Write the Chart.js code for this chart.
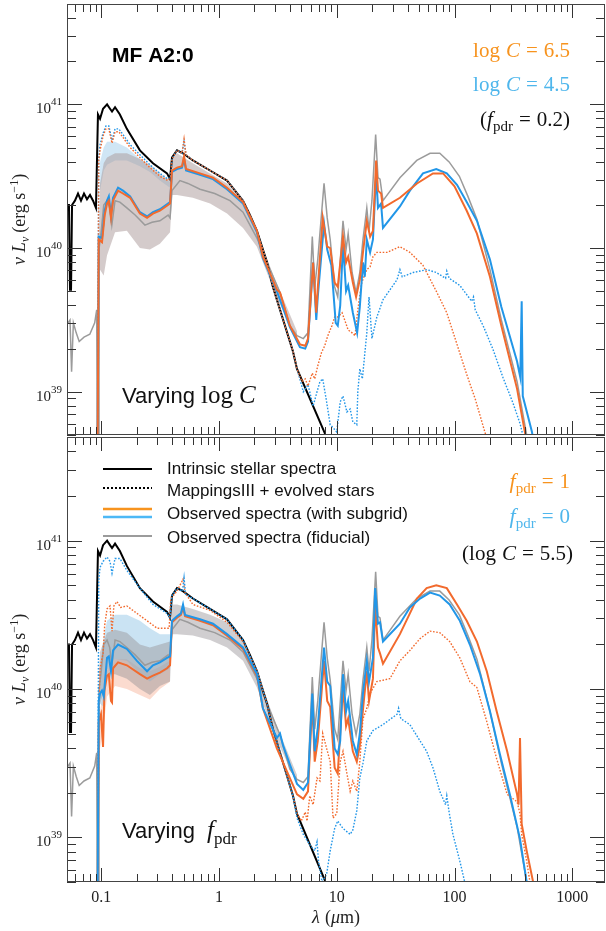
<!DOCTYPE html>
<html>
<head>
<meta charset="utf-8">
<script src="https://cdn.jsdelivr.net/npm/chart.js@4.4.1/dist/chart.umd.min.js"></script>
<style>
  body { margin: 0; background: #fff; }
  #wrap { position: relative; width: 606px; height: 931px; }
  .panel { position: absolute; left: 0; width: 606px; }
</style>
</head>
<body>
<div id="wrap">
  <div class="panel" style="top:0;height:437px"><canvas id="topPanel" width="606" height="437"></canvas></div>
  <div class="panel" style="top:436px;height:495px"><canvas id="bottomPanel" width="606" height="495"></canvas></div>
</div>
<script>
// all curves: [wavelength in micron, log10 of nu L_nu in erg/s]

const intrinsic = [[0.0512,40.30],[0.0532,40.30],[0.0543,39.71],[0.0554,39.71],[0.0565,40.30],[0.0598,40.33],[0.0635,40.38],[0.0673,40.33],[0.0714,40.38],[0.0757,40.34],[0.0803,40.37],[0.0852,40.33],[0.0902,40.28],[0.0938,40.93],[0.0977,40.90],[0.1036,40.97],[0.1121,41.00],[0.1187,40.97],[0.1235,40.95],[0.131,40.98],[0.144,40.93],[0.165,40.83],[0.213,40.68],[0.275,40.59],[0.362,40.52],[0.384,40.48],[0.399,40.63],[0.44,40.68],[0.494,40.66],[0.601,40.61],[0.839,40.54],[1.17,40.47],[1.60,40.33],[1.83,40.23],[2.10,40.12],[2.56,39.90],[2.87,39.73],[4.25,39.28],[4.59,39.16],[7.93,38.71],[8.5,38.6]];

const fiducial = [[0.0512,39.47],[0.0543,39.50],[0.0560,39.14],[0.0580,39.48],[0.0613,39.41],[0.065,39.35],[0.0714,39.38],[0.080,39.40],[0.088,39.48],[0.0915,39.57],[0.0925,38.6],[0.0945,38.6],[0.0957,39.99],[0.100,40.12],[0.105,40.30],[0.112,40.33],[0.118,40.28],[0.123,40.16],[0.131,40.33],[0.144,40.32],[0.165,40.28],[0.194,40.23],[0.235,40.16],[0.270,40.18],[0.315,40.19],[0.370,40.23],[0.384,40.21],[0.399,40.40],[0.466,40.47],[0.545,40.45],[0.69,40.41],[0.92,40.38],[1.24,40.33],[1.60,40.25],[2.10,40.07],[2.56,39.90],[3.3,39.69],[4.0,39.46],[4.6,39.39],[5.2,39.37],[5.7,39.41],[6.2,40.08],[6.5,39.73],[6.9,39.92],[7.8,40.45],[8.3,40.21],[8.8,40.06],[9.6,39.73],[10.2,39.66],[11.3,40.19],[12.0,39.99],[12.5,40.10],[13.5,39.83],[14.6,39.69],[15.7,39.83],[16.7,40.06],[18.0,40.28],[18.8,40.12],[19.9,40.33],[21.4,40.79],[22.4,40.49],[23.3,40.48],[24.7,40.33],[34.4,40.49],[47.8,40.61],[62,40.66],[75,40.66],[90,40.60],[110,40.50],[130,40.36],[155,40.20],[200,39.85],[250,39.50],[340,39.07],[380,38.85],[410,38.70],[440,38.55]];

// top panel: varying log C (f_pdr = 0.2)
const obsLogC65 = [[0.0932,38.6],[0.0952,40.06],[0.1015,40.04],[0.107,40.23],[0.112,40.31],[0.116,40.33],[0.121,40.21],[0.126,40.33],[0.139,40.40],[0.153,40.38],[0.176,40.35],[0.213,40.24],[0.245,40.21],[0.275,40.24],[0.315,40.26],[0.369,40.30],[0.384,40.31],[0.399,40.54],[0.44,40.56],[0.485,40.57],[0.505,40.64],[0.525,40.55],[0.69,40.52],[0.89,40.49],[1.17,40.42],[1.6,40.32],[2.1,40.12],[2.36,39.94],[3.1,39.71],[3.3,39.69],[4.0,39.46],[4.87,39.33],[5.4,39.32],[5.7,39.37],[6.3,39.90],[6.7,39.55],[6.9,39.72],[7.6,40.21],[8.3,40.01],[8.8,40.00],[9.6,39.76],[10.2,39.73],[11.3,40.08],[12.0,39.90],[12.5,39.94],[13.7,39.76],[14.6,39.66],[15.7,39.78],[16.7,39.97],[18,40.19],[19.2,40.08],[20.3,40.12],[21.6,40.61],[22.4,40.40],[23.8,40.38],[24.7,40.28],[34.4,40.35],[48,40.45],[65.6,40.52],[80,40.52],[100,40.43],[127,40.26],[155,40.10],[200,39.80],[250,39.46],[340,39.02],[380,38.80],[400,38.70],[430,38.55]];
const obsLogC45 = [[0.0932,38.6],[0.0952,40.08],[0.1015,40.07],[0.107,40.26],[0.112,40.33],[0.116,40.36],[0.121,40.23],[0.126,40.35],[0.139,40.42],[0.153,40.40],[0.176,40.36],[0.213,40.25],[0.245,40.22],[0.275,40.25],[0.315,40.27],[0.369,40.31],[0.384,40.32],[0.399,40.53],[0.44,40.55],[0.485,40.56],[0.505,40.62],[0.525,40.54],[0.69,40.51],[0.89,40.48],[1.17,40.41],[1.6,40.31],[2.1,40.11],[2.36,39.93],[3.1,39.70],[4.0,39.45],[4.87,39.31],[5.4,39.30],[5.7,39.35],[6.3,39.90],[6.7,39.50],[6.9,39.66],[7.8,40.17],[8.3,39.99],[9.0,39.88],[9.8,39.48],[10.2,39.46],[10.7,39.60],[11.3,40.03],[12.0,39.70],[12.5,39.74],[13.7,39.55],[14.9,39.41],[15.7,39.59],[16.7,39.90],[17.3,39.80],[18,40.06],[19.2,39.97],[20.3,40.06],[21.6,40.52],[22.4,40.28],[23.8,40.31],[24.7,40.14],[34.4,40.29],[41.8,40.40],[54,40.52],[70,40.55],[86,40.52],[105,40.44],[127,40.32],[155,40.19],[200,39.92],[250,39.59],[340,39.21],[362,39.10],[372,39.63],[380,38.97],[455,38.72],[480,38.6]];
const mapLogC65 = [[0.0932,38.6],[0.0952,40.61],[0.0977,40.68],[0.1036,40.78],[0.1097,40.83],[0.116,40.83],[0.1235,40.73],[0.131,40.81],[0.141,40.81],[0.153,40.77],[0.176,40.70],[0.213,40.63],[0.259,40.56],[0.315,40.50],[0.369,40.47],[0.39,40.50],[0.399,40.62],[0.44,40.68],[0.485,40.66],[0.505,40.76],[0.525,40.65],[0.60,40.61],[0.84,40.54],[1.17,40.47],[1.6,40.33],[2.1,40.12],[2.56,39.90],[2.87,39.73],[4.25,39.28],[4.6,39.16],[5.07,39.07],[5.4,39.09],[5.7,39.04],[6.2,39.13],[6.5,39.09],[6.9,39.18],[7.4,39.27],[7.9,39.32],[8.4,39.39],[9.1,39.46],[9.6,39.52],[10.2,39.52],[11.1,39.55],[11.8,39.49],[12.5,39.43],[13.5,39.41],[14.3,39.39],[15.1,39.57],[16.3,39.76],[18,39.85],[19.2,39.87],[20.3,39.94],[21.9,39.97],[26.7,39.97],[34.4,40.01],[41.8,39.97],[54,39.88],[70,39.70],[86,39.55],[105,39.33],[127,39.12],[150,38.95],[181,38.72],[200,38.6]];
const mapLogC45 = [[0.0932,38.6],[0.0952,40.63],[0.0977,40.72],[0.1036,40.80],[0.1097,40.85],[0.116,40.85],[0.1235,40.75],[0.131,40.83],[0.141,40.83],[0.153,40.79],[0.176,40.72],[0.213,40.65],[0.259,40.58],[0.315,40.52],[0.369,40.48],[0.39,40.50],[0.399,40.62],[0.44,40.68],[0.485,40.66],[0.505,40.74],[0.525,40.65],[0.60,40.61],[0.84,40.54],[1.17,40.47],[1.6,40.33],[2.1,40.12],[2.56,39.90],[2.87,39.73],[4.25,39.28],[4.6,39.16],[5.2,39.00],[5.7,39.05],[6.3,38.90],[6.8,39.00],[7.2,39.07],[7.6,39.09],[8.2,38.93],[8.8,38.77],[9.3,38.75],[10,38.72],[10.7,38.93],[11.3,38.97],[12.2,38.86],[13,38.88],[13.7,38.79],[14.8,38.77],[15.1,39.00],[15.7,39.16],[16.5,39.09],[18,39.41],[18.8,39.66],[19.9,39.37],[21.9,39.52],[24.7,39.64],[32.5,39.78],[34.4,39.85],[36,39.80],[44.6,39.83],[58.4,39.85],[70,39.83],[84,39.79],[86,39.84],[90,39.79],[111,39.74],[140,39.63],[145,39.66],[150,39.57],[175,39.46],[211,39.30],[258,39.10],[314,38.92],[360,38.78],[380,38.70],[400,38.6]];
// [wavelength, low, high]
const bandTop = [[0.0957,39.95,40.10],[0.0977,39.85,40.45],[0.105,39.81,40.59],[0.112,39.95,40.63],[0.131,40.11,40.66],[0.165,40.12,40.66],[0.213,40.00,40.62],[0.259,39.99,40.58],[0.315,40.03,40.52],[0.384,40.11,40.47],[0.40,40.37,40.62],[0.44,40.37,40.66],[0.60,40.35,40.59],[0.84,40.31,40.52],[1.17,40.24,40.45],[1.6,40.14,40.32],[2.1,40.01,40.11],[3.0,39.68,39.78],[4.6,39.36,39.42]];
const bandTopLogC45 = [[0.0977,40.40,40.60],[0.105,40.54,40.70],[0.112,40.58,40.74],[0.131,40.61,40.74],[0.165,40.61,40.70],[0.213,40.57,40.62],[0.259,40.53,40.56],[0.315,40.47,40.50],[0.384,40.42,40.46]];

// bottom panel: varying f_pdr (log C = 5.5)
const obsPdr1 = [[0.0932,38.6],[0.0952,39.78],[0.0995,39.83],[0.1036,39.61],[0.1065,39.99],[0.112,40.09],[0.116,40.10],[0.121,39.92],[0.1235,39.91],[0.126,40.14],[0.139,40.18],[0.165,40.16],[0.213,40.10],[0.245,40.07],[0.275,40.09],[0.315,40.11],[0.362,40.14],[0.384,40.16],[0.399,40.45],[0.44,40.48],[0.475,40.50],[0.495,40.55],[0.515,40.49],[0.69,40.46],[0.89,40.43],[1.17,40.36],[1.6,40.27],[2.1,40.09],[2.36,39.87],[3.1,39.60],[4.6,39.29],[5.2,39.26],[5.7,39.31],[6.2,39.92],[6.5,39.51],[6.9,39.65],[7.8,40.19],[8.3,39.92],[8.8,39.88],[9.6,39.47],[10.2,39.43],[11.3,40.01],[12.0,39.75],[12.5,39.80],[13.7,39.58],[14.8,39.51],[15.7,39.62],[16.7,39.86],[18,40.12],[18.8,39.92],[20.3,40.07],[21.2,40.57],[22.4,40.28],[23.3,40.24],[24.7,40.17],[34.4,40.37],[41.8,40.51],[48,40.61],[58,40.68],[70,40.70],[86,40.68],[105,40.57],[127,40.46],[155,40.32],[188,40.12],[228,39.85],[280,39.58],[340,39.29],[350,39.22],[360,39.67],[372,39.09],[410,38.91],[465,38.70],[500,38.55]];
const obsPdr0 = [[0.0932,38.6],[0.0952,39.92],[0.0977,39.97],[0.1015,39.99],[0.105,39.95],[0.112,40.21],[0.116,40.22],[0.121,40.12],[0.126,40.26],[0.139,40.30],[0.165,40.27],[0.201,40.19],[0.245,40.12],[0.275,40.16],[0.315,40.18],[0.362,40.21],[0.384,40.22],[0.399,40.46],[0.44,40.49],[0.475,40.51],[0.495,40.57],[0.515,40.50],[0.69,40.47],[0.89,40.44],[1.17,40.37],[1.6,40.28],[1.83,40.19],[2.1,40.10],[2.36,39.87],[3.1,39.67],[3.3,39.70],[3.5,39.62],[4.0,39.49],[4.6,39.36],[5.2,39.32],[5.7,39.37],[6.2,39.97],[6.5,39.58],[6.9,39.74],[7.8,40.28],[8.3,40.05],[8.8,40.02],[9.6,39.60],[10.2,39.56],[10.7,39.65],[11.3,40.10],[12.0,39.85],[12.5,39.92],[13.7,39.65],[14.8,39.56],[15.7,39.70],[16.7,39.97],[18,40.19],[18.8,40.05],[20.3,40.21],[21.2,40.68],[22.4,40.44],[23.3,40.45],[24.7,40.32],[34.4,40.44],[41.8,40.55],[51,40.61],[62,40.65],[75,40.63],[91,40.57],[111,40.46],[135,40.30],[165,40.10],[200,39.85],[243,39.56],[295,39.29],[360,38.99],[410,38.70],[450,38.5]];
const mapPdr1 = [[0.0932,38.6],[0.0957,39.92],[0.0977,40.14],[0.1036,40.24],[0.107,40.43],[0.112,40.54],[0.1187,40.56],[0.1235,40.39],[0.128,40.56],[0.136,40.59],[0.146,40.55],[0.165,40.56],[0.201,40.51],[0.245,40.46],[0.298,40.41],[0.362,40.41],[0.377,40.41],[0.39,40.61],[0.44,40.66],[0.495,40.74],[0.515,40.65],[0.60,40.57],[0.84,40.53],[1.17,40.45],[1.6,40.32],[2.1,40.12],[2.56,39.90],[2.87,39.73],[4.25,39.28],[4.6,39.16],[5.0,39.11],[5.4,39.17],[5.6,39.11],[5.9,39.28],[6.3,39.22],[6.8,39.40],[7.2,39.38],[7.6,39.70],[8.2,39.60],[8.8,39.51],[9.3,39.13],[10,39.16],[10.7,39.51],[11.3,39.58],[12.2,39.43],[13,39.31],[13.7,39.38],[14.8,39.31],[15.7,39.51],[16.7,39.80],[18,39.87],[19.2,39.97],[21.9,40.05],[28.3,40.07],[34.4,40.19],[41.8,40.26],[51,40.34],[62,40.39],[75,40.38],[91,40.32],[111,40.21],[135,40.05],[155,40.01],[188,39.78],[228,39.53],[280,39.29],[340,39.24],[360,39.16],[372,39.02],[410,38.84],[437,38.70],[470,38.55]];
const mapPdr0 = [[0.0932,38.6],[0.0952,40.73],[0.0977,40.82],[0.1036,40.86],[0.112,40.89],[0.1187,40.86],[0.1235,40.78],[0.131,40.88],[0.144,40.88],[0.165,40.80],[0.213,40.68],[0.275,40.57],[0.362,40.51],[0.384,40.48],[0.399,40.63],[0.44,40.68],[0.49,40.66],[0.505,40.75],[0.52,40.64],[0.601,40.61],[0.839,40.54],[1.17,40.47],[1.6,40.33],[2.1,40.12],[2.56,39.90],[2.87,39.73],[4.25,39.28],[4.6,39.13],[5.2,39.02],[5.9,38.95],[6.5,38.91],[6.8,38.97],[7.0,38.84],[7.5,38.70],[8.2,38.75],[8.8,38.91],[9.6,39.06],[10.2,39.11],[11.3,39.06],[13,39.02],[13.7,39.05],[14.8,39.18],[15.7,39.40],[16.7,39.50],[18,39.65],[20.3,39.72],[24.7,39.76],[32.5,39.83],[33.5,39.87],[35,39.80],[41.8,39.76],[51,39.65],[58,39.58],[65.6,39.47],[75,39.31],[84,39.22],[86,39.28],[90,39.17],[97,39.02],[111,38.84],[122,38.70],[135,38.55]];
const bandBottom = [[0.0957,39.95,40.10],[0.0977,39.90,40.25],[0.105,39.98,40.32],[0.112,40.10,40.38],[0.131,40.10,40.40],[0.165,40.07,40.38],[0.213,40.00,40.30],[0.259,39.96,40.28],[0.315,40.02,40.30],[0.384,40.05,40.32],[0.40,40.37,40.57],[0.44,40.37,40.57],[0.60,40.36,40.54],[0.84,40.33,40.50],[1.17,40.28,40.45],[1.6,40.19,40.34],[2.1,40.01,40.12],[3.0,39.68,39.78],[4.6,39.36,39.42]];
const bandPdr0 = [[0.0977,39.90,40.15],[0.105,39.88,40.35],[0.112,40.13,40.46],[0.131,40.20,40.50],[0.165,40.19,40.50],[0.213,40.10,40.46],[0.259,40.05,40.41],[0.315,40.10,40.37],[0.384,40.14,40.37]];
const bandPdr1 = [[0.0977,39.60,39.85],[0.105,39.75,40.00],[0.112,39.95,40.13],[0.131,40.02,40.20],[0.165,40.00,40.20],[0.213,39.96,40.14],[0.259,39.93,40.12],[0.315,40.00,40.15],[0.384,40.05,40.19]];

const xTickValues = [0.1, 1, 10, 100, 1000];
const xTickLabels = ['0.1', '1', '10', '100', '1000'];
const yTickValues = [1e39, 1e40, 1e41];
const yTickExps = ['39', '40', '41'];

const SERIF = '"Liberation Serif", "DejaVu Serif", serif';
const SANS = '"Liberation Sans", Arial, sans-serif';
const ORANGE = '#f26a2d', BLUE = '#2196e8', GREY = '#9b9b9b';
const ORANGE_TXT = '#f7931e', BLUE_TXT = '#4eb6ec';

function pts(arr, k) {
    return arr.map(p => ({ x: p[0], y: Math.pow(10, p[k || 1]) }));
}
function curve(arr, color, width, dash) {
    return { data: pts(arr), borderColor: color, borderWidth: width, borderDash: dash || [],
             pointRadius: 0, fill: false, tension: 0 };
}
function band(arr, color) {
    return [
        { data: pts(arr, 1), borderColor: 'rgba(0,0,0,0)', borderWidth: 0, pointRadius: 0, fill: false },
        { data: pts(arr, 2), borderColor: 'rgba(0,0,0,0)', borderWidth: 0, pointRadius: 0, fill: '-1', backgroundColor: color }
    ];
}

// draw a run of text pieces: [text, font, dy] or [gap]
function rich(ctx, parts, x, y, align) {
    let w = 0;
    parts.forEach(p => {
        if (typeof p[0] === 'number') { w += p[0]; return; }
        ctx.font = p[1]; w += ctx.measureText(p[0]).width;
    });
    let cx = align === 'right' ? x - w : align === 'center' ? x - w / 2 : x;
    parts.forEach(p => {
        if (typeof p[0] === 'number') { cx += p[0]; return; }
        ctx.font = p[1];
        ctx.fillText(p[0], cx, y + (p[2] || 0));
        cx += ctx.measureText(p[0]).width;
    });
}

function yTitle(ctx, cx, cy) {
    ctx.save();
    ctx.translate(cx, cy);
    ctx.rotate(-Math.PI / 2);
    ctx.fillStyle = '#222';
    rich(ctx, [['ν', 'italic 18px ' + SERIF], [5], ['L', 'italic 18px ' + SERIF], ['ν', 'italic 12px ' + SERIF, 4],
               [4], ['(erg s', '18px ' + SERIF], ['−1', '12px ' + SERIF, -7], [')', '18px ' + SERIF]], 0, 0, 'center');
    ctx.restore();
}

function axesPlugin(extra) {
    return {
        id: 'axesBox',
        afterDraw(chart) {
            const ctx = chart.ctx, a = chart.chartArea;
            const xs = chart.scales.x, ys = chart.scales.y;
            ctx.save();
            ctx.strokeStyle = '#333';
            ctx.lineWidth = 1;
            ctx.beginPath();
            for (let e = -2; e <= 3; e++) {
                for (let m = 1; m <= 9; m++) {
                    const v = m * Math.pow(10, e);
                    if (v < xs.min || v > xs.max) continue;
                    const px = Math.round(xs.getPixelForValue(v)) + 0.5;
                    const len = m === 1 ? 14 : 8;
                    ctx.moveTo(px, a.bottom); ctx.lineTo(px, a.bottom - len);
                    ctx.moveTo(px, a.top); ctx.lineTo(px, a.top + len);
                }
            }
            for (let e = 38; e <= 41; e++) {
                for (let m = 1; m <= 9; m++) {
                    const v = m * Math.pow(10, e);
                    if (v < ys.min || v > ys.max) continue;
                    const py = Math.round(ys.getPixelForValue(v)) + 0.5;
                    const len = m === 1 ? 15 : 9;
                    ctx.moveTo(a.left, py); ctx.lineTo(a.left + len, py);
                    ctx.moveTo(a.right, py); ctx.lineTo(a.right - len, py);
                }
            }
            ctx.stroke();
            ctx.strokeStyle = '#444';
            ctx.strokeRect(Math.round(a.left) + 0.5, Math.round(a.top) + 0.5,
                           Math.round(a.right - a.left) - 1, Math.round(a.bottom - a.top) - 1);

            ctx.fillStyle = '#222';
            ctx.textBaseline = 'alphabetic';
            yTickValues.forEach((v, i) => {
                const py = ys.getPixelForValue(v);
                rich(ctx, [['10', '15px ' + SERIF], ['' + yTickExps[i], '11px ' + SERIF, -8]], 62, py + 9, 'right');
            });
            yTitle(ctx, 25, (a.top + a.bottom) / 2);
            extra(ctx, a, xs, ys);
            ctx.restore();
        }
    };
}

function baseOptions(pad) {
    return {
        responsive: false,
        animation: false,
        events: [],
        layout: { padding: pad },
        plugins: { legend: { display: false }, tooltip: { enabled: false } },
        scales: {
            x: { type: 'logarithmic', min: 0.0512, max: 1897, display: false },
            y: { type: 'logarithmic', min: 5e38, max: 5e41, display: false }
        }
    };
}

const DOT = [1.6, 1.6];

new Chart(document.getElementById('topPanel'), {
    type: 'line',
    data: {
        datasets: [
            curve(obsLogC65, ORANGE, 2),
            curve(obsLogC45, BLUE, 2),
            curve(mapLogC65, ORANGE, 1.4, DOT),
            curve(mapLogC45, BLUE, 1.4, DOT),
            curve(intrinsic, '#000', 2),
            curve(fiducial, GREY, 1.5),
            ...band(bandTop, 'rgba(170,152,152,0.5)'),
            ...band(bandTopLogC45, 'rgba(150,200,232,0.45)')
        ]
    },
    options: baseOptions({ left: 67, right: 1, top: 4, bottom: 2 }),
    plugins: [axesPlugin((ctx, a) => {
        ctx.fillStyle = '#000';
        ctx.font = 'bold 21px ' + SANS;
        ctx.fillText('MF A2:0', 112, 62);
        ctx.fillStyle = ORANGE_TXT;
        rich(ctx, [['log', '21px ' + SERIF], [6], ['C', 'italic 21px ' + SERIF], [6], ['=', '21px ' + SERIF], [6], ['6.5', '21px ' + SERIF]], 570, 57, 'right');
        ctx.fillStyle = BLUE_TXT;
        rich(ctx, [['log', '21px ' + SERIF], [6], ['C', 'italic 21px ' + SERIF], [6], ['=', '21px ' + SERIF], [6], ['4.5', '21px ' + SERIF]], 570, 91, 'right');
        ctx.fillStyle = '#111';
        rich(ctx, [['(', '21px ' + SERIF], ['f', 'italic 21px ' + SERIF], ['pdr', '15px ' + SERIF, 5], [6], ['=', '21px ' + SERIF], [6], ['0.2)', '21px ' + SERIF]], 570, 126, 'right');
        rich(ctx, [['Varying', '22px ' + SANS], [6], ['log', '25px ' + SERIF], [6], ['C', 'italic 25px ' + SERIF]], 122, 403, 'left');
    })]
});

new Chart(document.getElementById('bottomPanel'), {
    type: 'line',
    data: {
        datasets: [
            curve(obsPdr0, BLUE, 2),
            curve(obsPdr1, ORANGE, 2),
            curve(mapPdr0, BLUE, 1.4, DOT),
            curve(mapPdr1, ORANGE, 1.4, DOT),
            curve(intrinsic, '#000', 2),
            curve(fiducial, GREY, 1.5),
            ...band(bandBottom, 'rgba(150,146,150,0.45)'),
            ...band(bandPdr0, 'rgba(150,200,232,0.5)'),
            ...band(bandPdr1, 'rgba(245,165,135,0.4)')
        ]
    },
    options: baseOptions({ left: 67, right: 1, top: 1, bottom: 49 }),
    plugins: [axesPlugin((ctx, a, xs) => {
        // legend
        const seg = (y, color, width, dash) => {
            ctx.save();
            ctx.strokeStyle = color; ctx.lineWidth = width; ctx.setLineDash(dash || []);
            ctx.beginPath(); ctx.moveTo(103, y); ctx.lineTo(152, y); ctx.stroke();
            ctx.restore();
        };
        seg(33, '#000', 2);
        seg(52, '#000', 2, [2, 2]);
        seg(73, '#f7931e', 2.5);
        seg(81, '#4db8f5', 2.5);
        seg(100, GREY, 2);
        ctx.fillStyle = '#111';
        ctx.font = '17px ' + SANS;
        ctx.fillText('Intrinsic stellar spectra', 167, 38);
        ctx.fillText('MappingsIII + evolved stars', 167, 60);
        ctx.fillText('Observed spectra (with subgrid)', 167, 83);
        ctx.fillText('Observed spectra (fiducial)', 167, 107);

        ctx.fillStyle = ORANGE_TXT;
        rich(ctx, [['f', 'italic 22px ' + SERIF], ['pdr', '15px ' + SERIF, 5], [6], ['=', '21px ' + SERIF], [6], ['1', '21px ' + SERIF]], 570, 52, 'right');
        ctx.fillStyle = BLUE_TXT;
        rich(ctx, [['f', 'italic 22px ' + SERIF], ['pdr', '15px ' + SERIF, 5], [6], ['=', '21px ' + SERIF], [6], ['0', '21px ' + SERIF]], 570, 87, 'right');
        ctx.fillStyle = '#111';
        rich(ctx, [['(', '21px ' + SERIF], ['log', '21px ' + SERIF], [6], ['C', 'italic 21px ' + SERIF], [6], ['=', '21px ' + SERIF], [6], ['5.5)', '21px ' + SERIF]], 573, 124, 'right');
        rich(ctx, [['Varying', '22px ' + SANS], [12], ['f', 'italic 25px ' + SERIF], ['pdr', '17px ' + SERIF, 6]], 122, 402, 'left');

        // x tick labels and title
        ctx.fillStyle = '#222';
        ctx.font = '16px ' + SERIF;
        ctx.textAlign = 'center';
        xTickValues.forEach((v, i) => ctx.fillText(xTickLabels[i], xs.getPixelForValue(v), a.bottom + 20));
        ctx.textAlign = 'left';
        rich(ctx, [['λ', 'italic 18px ' + SERIF], [5], ['(', '18px ' + SERIF], ['μ', 'italic 18px ' + SERIF], ['m)', '18px ' + SERIF]], (a.left + a.right) / 2, a.bottom + 41, 'center');
    })]
});
</script>
</body>
</html>
